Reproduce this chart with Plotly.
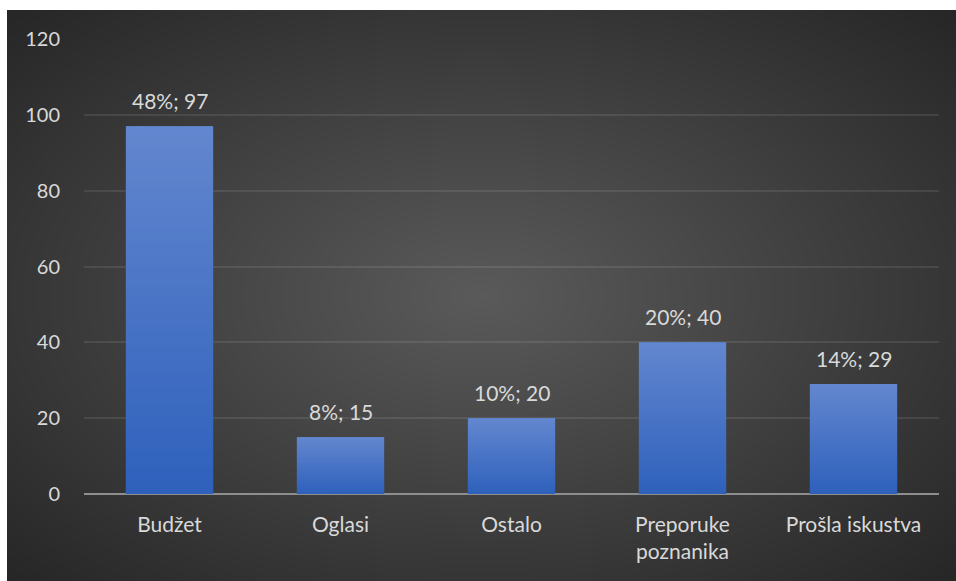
import base64, struct, zlib
import numpy as np
import plotly.graph_objects as go

categories = ["Budžet", "Oglasi", "Ostalo", "Preporuke<br>poznanika", "Prošla iskustva"]
counts = [97, 15, 20, 40, 29]
percents = [48, 8, 10, 20, 14]
y_ticks = [0, 20, 40, 60, 80, 100, 120]

W, H = 956, 581
L, R, T, B = 84, 17, 39, 87
PW, PH = W - L - R, H - T - B
BX0, BY0 = 7, 10
BW, BH = W - BX0, H - BY0
BARGAP = 0.49
FONT = "Lato"
TXT = "#d9d9d9"


def png_data_uri(rgb):
    h, w, _ = rgb.shape
    raw = b"".join(b"\x00" + rgb[i].tobytes() for i in range(h))
    def chunk(tag, data):
        c = struct.pack(">I", len(data)) + tag + data
        return c + struct.pack(">I", zlib.crc32(tag + data) & 0xFFFFFFFF)
    png = b"\x89PNG\r\n\x1a\n" + chunk(b"IHDR", struct.pack(">IIBBBBB", w, h, 8, 2, 0, 0, 0)) \
        + chunk(b"IDAT", zlib.compress(raw, 9)) + chunk(b"IEND", b"")
    return "data:image/png;base64," + base64.b64encode(png).decode()


# radial gradient background panel
yy, xx = np.mgrid[0:BH, 0:BW].astype(float)
cx, cy = BW * 0.5, BH * 0.5
d = np.sqrt(((xx - cx) / (BW / 2)) ** 2 + ((yy - cy) / (BH / 2)) ** 2) / np.sqrt(2)
d = np.clip(d, 0, 1)
c0, c1 = 0x5a, 0x26
v = c0 + (c1 - c0) * d
bg_uri = png_data_uri(np.stack([v, v, v], axis=-1).round().astype(np.uint8))

# vertical gradient for bar fill (top light -> bottom dark)
top = np.array([0x63, 0x87, 0xcf], float)
bot = np.array([0x2f, 0x61, 0xbc], float)
t = np.linspace(0, 1, 64)[:, None]
col = top + (bot - top) * t
grad = np.repeat(col[:, None, :], 2, axis=1).round().astype(np.uint8)
grad_uri = png_data_uri(grad)

labels = [f"{p}%; {c}" for p, c in zip(percents, counts)]

fig = go.Figure()
fig.add_trace(go.Bar(
    x=categories, y=counts,
    marker=dict(color="#4673c6", line=dict(width=0)),
    hovertemplate="%{x}: %{y}<extra></extra>",
))

fig.add_layout_image(dict(
    source=bg_uri, xref="paper", yref="paper",
    x=(BX0 - L) / PW, y=(H - B - BY0) / PH,
    sizex=BW / PW, sizey=BH / PH,
    xanchor="left", yanchor="top", sizing="stretch", layer="below",
))

bw = 1 - BARGAP
for i, (c, lab) in enumerate(zip(counts, labels)):
    fig.add_layout_image(dict(
        source=grad_uri, xref="x", yref="y",
        x=i - bw / 2, y=c, sizex=bw, sizey=c,
        xanchor="left", yanchor="top", sizing="stretch", layer="above",
    ))
    fig.add_annotation(
        x=i, y=c, xref="x", yref="y", text=lab, showarrow=False,
        yanchor="bottom", yshift=11,
        font=dict(size=21, color=TXT, family=FONT),
    )

fig.update_layout(
    width=W, height=H,
    margin=dict(l=L, r=R, t=T, b=B, autoexpand=False),
    paper_bgcolor="white", plot_bgcolor="rgba(0,0,0,0)",
    bargap=BARGAP, showlegend=False,
    font=dict(family=FONT, color=TXT, size=21),
)
fig.update_xaxes(
    showgrid=False, showline=False, zeroline=False, ticks="",
    tickfont=dict(size=21, color=TXT, family=FONT), ticklabelstandoff=16,
)
fig.update_yaxes(
    range=[0, 120], tickvals=y_ticks, showgrid=True, gridcolor="rgba(255,255,255,0.09)",
    gridwidth=2, zeroline=True, zerolinecolor="#8e8e8e", zerolinewidth=2,
    showline=False, ticks="", ticklabelstandoff=23,
    tickfont=dict(size=20, color=TXT, family=FONT),
)

fig.write_html("out.html", config={"displayModeBar": False},
               post_script="document.body.style.margin='0';document.body.style.padding='0';")
